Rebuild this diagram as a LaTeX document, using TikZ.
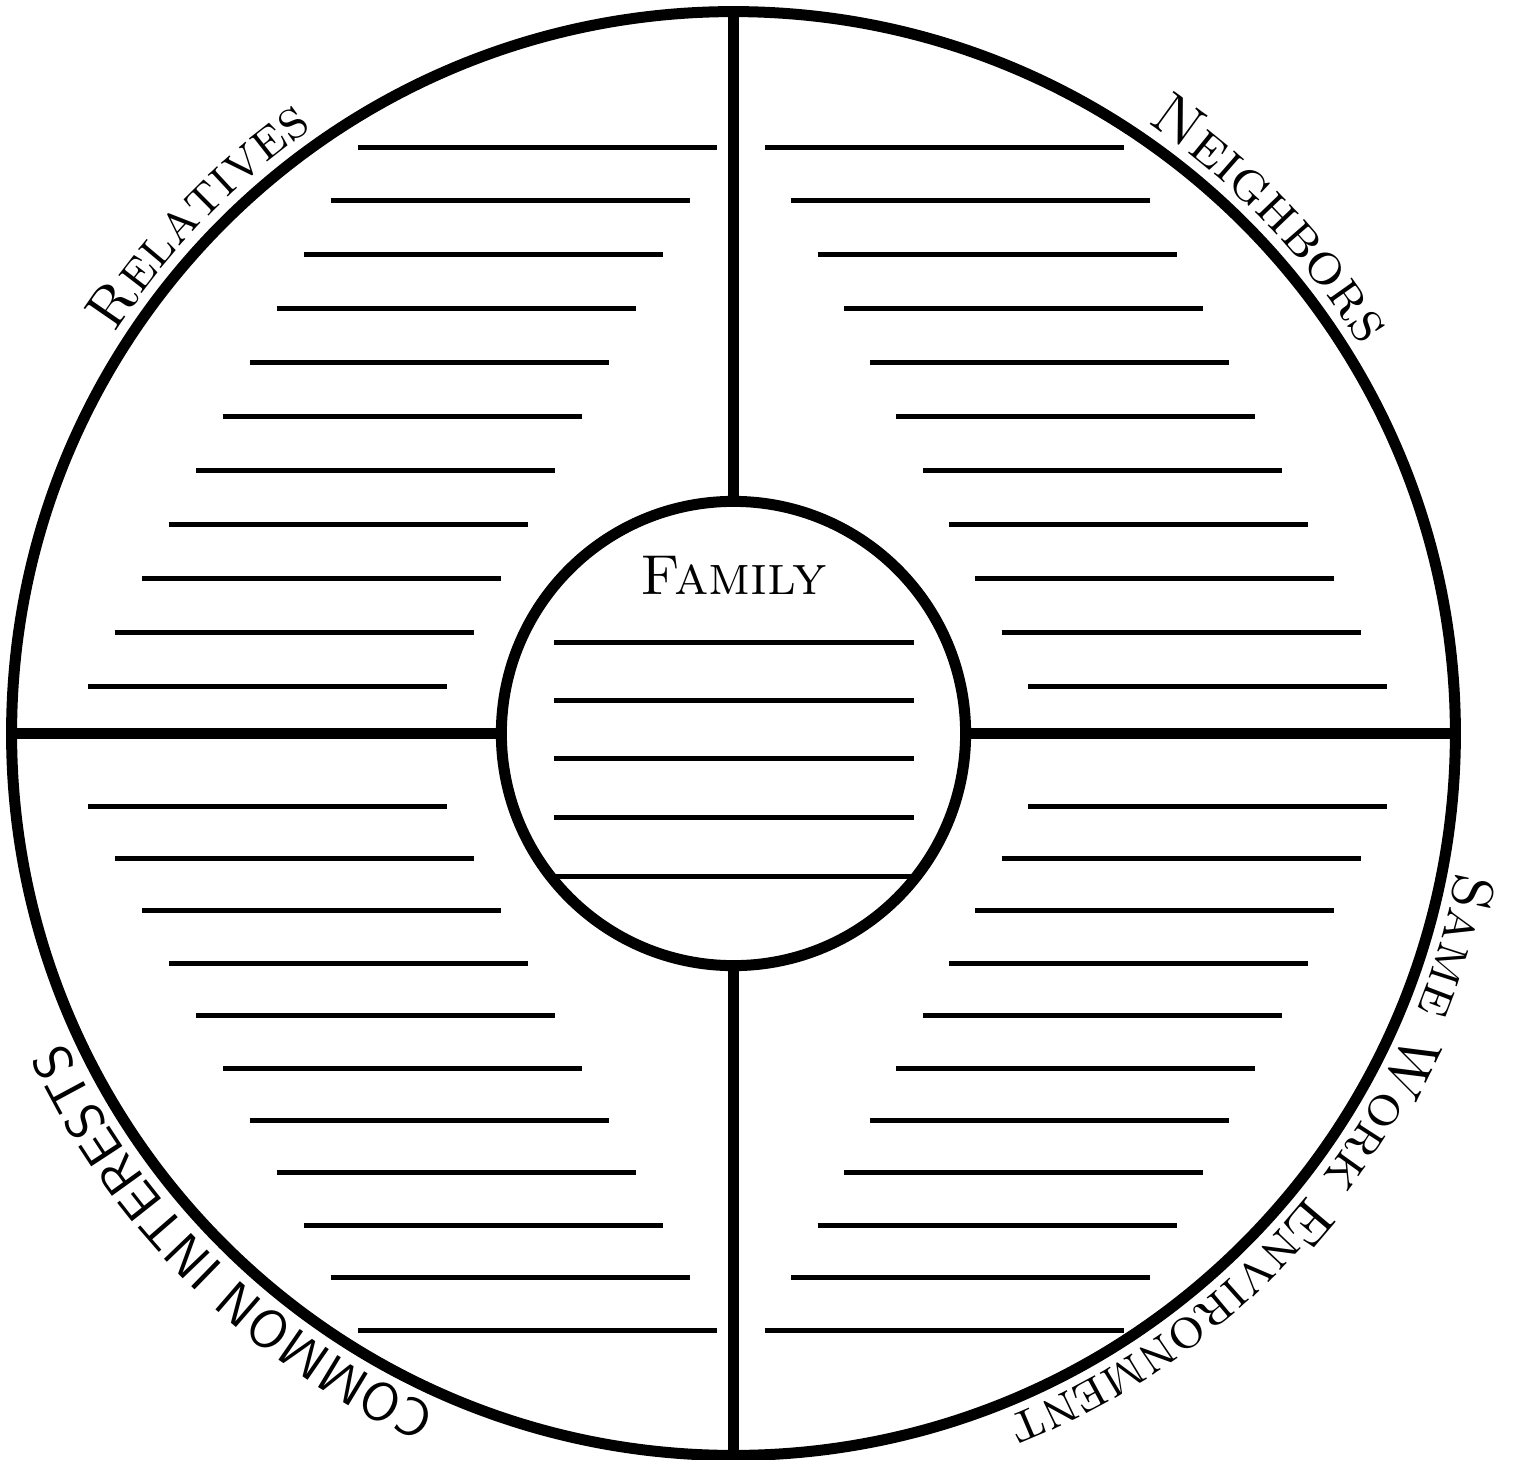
\documentclass[tikz,border=0pt]{standalone}
\usetikzlibrary{decorations.text}
\begin{document}
\begin{tikzpicture}[x=0.01cm,y=0.01cm,
  ring/.style={draw, circle, line width=0.11cm, inner sep=0pt},
  divider/.style={line width=0.11cm},
  blank/.style={line width=0.05cm},
  arclabel/.style={decorate, decoration={text along path, text align=center, text={#1}}}
]
\useasboundingbox (-733.5,-725.5) rectangle (783.5,733.5);
\node[ring, minimum size=14.43cm] (outer) at (0,0) {};
\node[ring, minimum size=4.64cm] (inner) at (0,0) {};
\draw[divider] (outer.north) -- (inner.north);
\draw[divider] (outer.south) -- (inner.south);
\draw[divider] (outer.west) -- (inner.west);
\draw[divider] (outer.east) -- (inner.east);
\node[font=\fontsize{16}{19}\selectfont\scshape, anchor=base, inner sep=0pt] (family) at (0.5,139.5) {Family};
\foreach \i in {0,...,10} {
  \draw[blank] ({-375.5-27*\i}, {586.5-53.9*\i}) -- ++(359,0);
  \draw[blank] ({31.5+26.3*\i}, {586.5-53.9*\i}) -- ++(359,0);
  \draw[blank] ({-645.5+27*\i}, {-72.5-52.4*\i}) -- ++(359,0);
  \draw[blank] ({294.5-26.3*\i}, {-72.5-52.4*\i}) -- ++(359,0);
}
\foreach \y in {91.5,33.5,-24.5,-83.5,-142.5} \draw[blank] (-179.5,\y) -- ++(360,0);
\path[arclabel={|\fontsize{16.3}{19}\selectfont\scshape|Relatives}] (196:737) arc[start angle=196, end angle=76, radius=737];
\path[arclabel={|\fontsize{17}{20}\selectfont\scshape|Neighbors}] (103.8:737) arc[start angle=103.8, end angle=-16.2, radius=737];
\path[arclabel={|\fontsize{16.3}{19}\selectfont\scshape|Same Work Environment}] (20.5:737) arc[start angle=20.5, end angle=-99.5, radius=737];
\path[arclabel={|\fontsize{15.3}{18}\selectfont\sffamily|COMMON INTERESTS}] (285.5:737) arc[start angle=285.5, end angle=165.5, radius=737];
\end{tikzpicture}
\end{document}
